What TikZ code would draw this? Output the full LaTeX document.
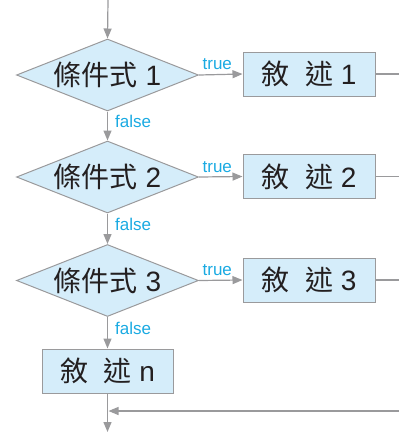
\documentclass[tikz,border=0pt]{standalone}
\usepackage{fontspec}
\setmainfont{Liberation Sans}
\newfontfamily\cjk{Noto Sans CJK TC}
\usetikzlibrary{shapes.geometric,arrows.meta}
\definecolor{linegray}{HTML}{9A9A9C}
\definecolor{fillblue}{HTML}{D5EDFA}
\definecolor{txt}{HTML}{231F20}
\definecolor{lbl}{HTML}{1AAAE2}
\tikzset{
  cond/.style={diamond, draw=linegray, fill=fillblue, line width=1pt, shape aspect=2.53,
    minimum width=182pt, minimum height=72pt, inner sep=0pt, text=txt, font=\fontsize{28}{32}\selectfont},
  stmt/.style={rectangle, draw=linegray, fill=fillblue, line width=1pt,
    minimum width=132pt, minimum height=44pt, inner sep=0pt, text=txt, font=\fontsize{28}{32}\selectfont},
  flow/.style={draw=linegray, line width=1.2pt, -{Triangle[length=10pt,width=8pt]}},
  plain/.style={draw=linegray, line width=1.2pt},
  lab/.style={text=lbl, font=\fontsize{17}{19}\selectfont, inner sep=1pt},
}
\begin{document}
\begin{tikzpicture}[x=1pt,y=-1pt]
\useasboundingbox (0,0) rectangle (399,432);
\coordinate (top) at (108,0);
\node[cond] (c1) at (107.5,75) {{\cjk 條件式} 1};
\node[cond] (c2) at (107.5,177) {{\cjk 條件式} 2};
\node[cond] (c3) at (107.5,280.5) {{\cjk 條件式} 3};
\node[stmt] (s1) at (309,74) {{\cjk 敘\hspace{0.55em}述} 1};
\node[stmt] (s2) at (309,176.5) {{\cjk 敘\hspace{0.55em}述} 2};
\node[stmt] (s3) at (309,280) {{\cjk 敘\hspace{0.55em}述} 3};
\node[stmt, minimum width=131pt] (sn) at (107.5,371) {{\cjk 敘\hspace{0.55em}述} n};
\coordinate (r1) at (399,74);
\coordinate (r2) at (399,176.5);
\coordinate (r3) at (399,280);
\coordinate (rb) at (399,411);
\coordinate (bend) at (107.5,411);
\coordinate (bot) at (107.5,432);
\draw[flow] (top) -- (c1.north);
\draw[flow] (c1.east) -- node[lab, above, pos=0.42, yshift=3pt] {true} (s1.west);
\draw[flow] (c2.east) -- node[lab, above, pos=0.42, yshift=3pt] {true} (s2.west);
\draw[flow] (c3.east) -- node[lab, above, pos=0.42, yshift=3pt] {true} (s3.west);
\draw[flow] (c1.south) -- node[lab, right, pos=0.35, xshift=6pt] {false} (c2.north);
\draw[flow] (c2.south) -- node[lab, right, pos=0.35, xshift=6pt] {false} (c3.north);
\draw[flow] (c3.south) -- node[lab, right, pos=0.35, xshift=6pt] {false} (sn.north);
\draw[plain] (s1.east) -- (r1);
\draw[plain] (s2.east) -- (r2);
\draw[plain] (s3.east) -- (r3);
\draw[flow] (sn.south) -- (bot);
\draw[flow] (rb) -- ([xshift=1pt]bend);
\end{tikzpicture}
\end{document}
